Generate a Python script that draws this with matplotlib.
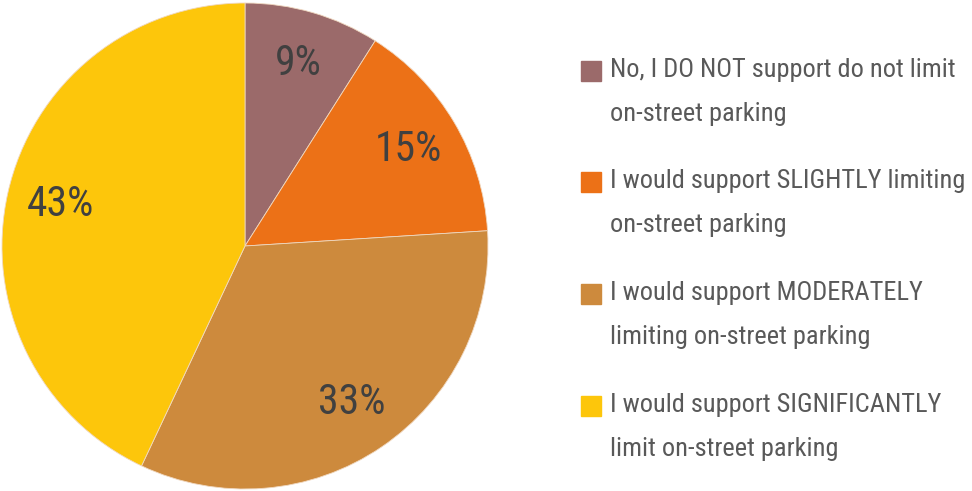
import matplotlib.pyplot as plt
from matplotlib.patches import Rectangle

labels = ["No, I DO NOT support do not limit\non-street parking",
          "I would support SLIGHTLY limiting\non-street parking",
          "I would support MODERATELY\nlimiting on-street parking",
          "I would support SIGNIFICANTLY\nlimit on-street parking"]
values = [9, 15, 33, 43]
colors = ["#9b6a6a", "#ec7117", "#cd8a3d", "#fdc60b"]

W, H = 972, 491
fig = plt.figure(figsize=(W / 100, H / 100), dpi=100)
ax = fig.add_axes([2 / W, 2 / H, 486 / W, 486 / H])

fam = ["Roboto Condensed", "DejaVu Sans"]
wedges, texts, autotexts = ax.pie(values, colors=colors, startangle=90, counterclock=False,
                                  autopct="%d%%", pctdistance=0.78,
                                  wedgeprops=dict(edgecolor="#f0d8c0", linewidth=0.6),
                                  textprops=dict(fontsize=30, color="#404040", family=fam,
                                                 stretch="condensed"))
ax.set_xlim(-1, 1)
ax.set_ylim(-1, 1)
ax.set_aspect("equal")

# legend drawn by hand
ys = [71, 182, 294, 406]
for lab, col, y in zip(labels, colors, ys):
    fig.patches.append(Rectangle((581 / W, 1 - (y + 10) / H), 20 / W, 20 / H,
                                 transform=fig.transFigure, color=col))
    fig.text(610 / W, 1 - (y - 13) / H, lab, fontsize=19, color="#595959",
             family=fam, stretch="condensed", va="top", linespacing=2.05)

fig.savefig("out.png", dpi=100)
